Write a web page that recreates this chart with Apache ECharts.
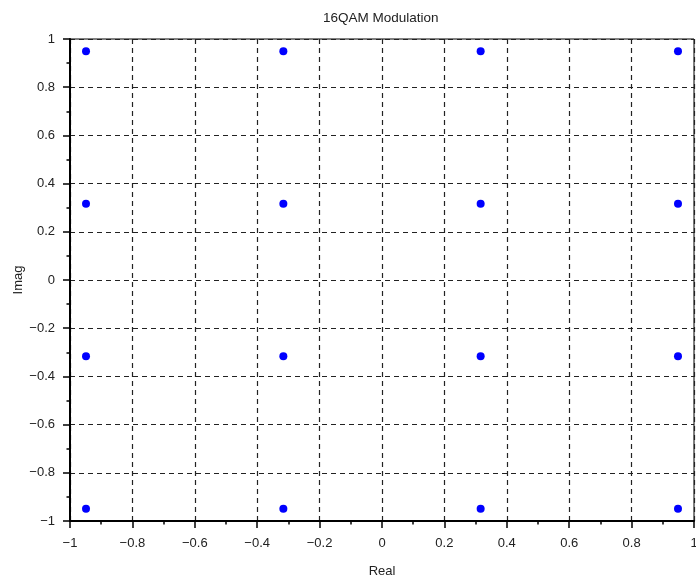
<!DOCTYPE html>
<html>
<head>
<meta charset="utf-8">
<script src="https://cdn.jsdelivr.net/npm/echarts@6/dist/echarts.min.js"></script>
<style>html,body{margin:0;padding:0;background:#fff}#c{width:696px;height:579px}</style>
</head>
<body>
<div id="c"></div>
<script>
// Constellation points (16QAM normalized)
const realValues = [-0.9487, -0.3162, 0.3162, 0.9487];
const imagValues = [-0.9487, -0.3162, 0.3162, 0.9487];
const titleText = '16QAM Modulation';
const xName = 'Real';
const yName = 'Imag';

const points = [];
for (const re of realValues) for (const im of imagValues) points.push([re, im]);

function fmt(v) {
  const r = Math.round(v * 10) / 10;
  const s = String(Math.abs(r));
  return (r < 0 ? '\u2212' : '') + s;
}

const font = 'Liberation Sans, Arial, sans-serif';
const axisCommon = {
  type: 'value', min: -1, max: 1, interval: 0.2,
  axisLine: { show: true, onZero: false, lineStyle: { color: '#000', width: 2 } },
  axisTick: { show: true, inside: false, length: 7, lineStyle: { color: '#000', width: 1.5 } },
  minorTick: { show: true, splitNumber: 2, length: 3.5, lineStyle: { color: '#000', width: 1.5 } },
  splitLine: { show: true, lineStyle: { color: '#222', type: [5, 4], width: 1.2 } },
  axisLabel: { formatter: fmt, color: '#222', fontSize: 13, fontFamily: font },
  nameLocation: 'middle',
  nameMoveOverlap: false,
  nameTextStyle: { color: '#222', fontSize: 13, fontFamily: font }
};

const chart = echarts.init(document.getElementById('c'), null, { renderer: 'canvas' });
chart.setOption({
  animation: false,
  backgroundColor: '#fff',
  title: {
    text: titleText, left: 318, top: 6,
    textStyle: { fontSize: 13.5, fontWeight: 'normal', color: '#222', fontFamily: font }
  },
  grid: { left: 70, right: 2, top: 39, bottom: 58, containLabel: false, outerBoundsMode: 'none', show: true, borderColor: '#000', borderWidth: 1, backgroundColor: 'transparent' },
  xAxis: Object.assign({}, axisCommon, {
    name: xName, nameGap: 44,
    axisLabel: Object.assign({}, axisCommon.axisLabel, { margin: 16 })
  }),
  yAxis: Object.assign({}, axisCommon, {
    name: yName, nameGap: 45,
    axisLabel: Object.assign({}, axisCommon.axisLabel, { margin: 15 })
  }),
  series: [{
    type: 'scatter', data: points, symbol: 'circle', symbolSize: 8,
    itemStyle: { color: '#0000ff', opacity: 1 }
  }]
});
</script>
</body>
</html>
